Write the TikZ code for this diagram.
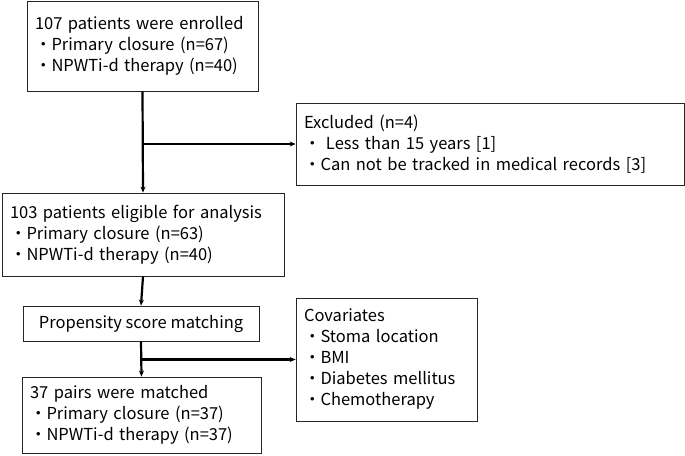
\documentclass[tikz,border=0pt]{standalone}
\usepackage{fontspec}
\setmainfont{Noto Sans CJK JP}
\usetikzlibrary{arrows.meta}

\tikzset{
  box/.style={draw=black!85, line width=0.8pt, inner xsep=8pt, inner ysep=0pt,
              align=left, font=\fontsize{16.5}{21}\selectfont},
  flow/.style={line width=2.2pt, -{Stealth[length=6pt,width=5pt]}},
}

\begin{document}
\begin{tikzpicture}[x=1pt, y=-1pt]

% Frame of the picture (pixels of the reference, y downwards)
\useasboundingbox (0,0) rectangle (685,455);

% Main column of boxes
\node[box, text width=215pt, minimum height=90pt] (enrolled) at (142.5,46)
  {107 patients were enrolled\\
   ・Primary closure (n=67)\\
   ・NPWTi-d therapy (n=40)};

\node[box, text width=266pt, minimum height=83pt] (eligible) at (143,234.5)
  {103 patients eligible for analysis\\
   ・Primary closure (n=63)\\
   ・NPWTi-d therapy (n=40)};

\node[box, align=center, minimum width=236pt, minimum height=35pt] (psm) at (141,323.5)
  {Propensity score matching};

\node[box, text width=223pt, minimum height=76pt] (matched) at (141.5,415)
  {37 pairs were matched\\
   ・Primary closure (n=37)\\
   ・NPWTi-d therapy (n=37)};

% Side boxes
\node[box, text width=372pt, minimum height=82pt] (excluded) at (490,144)
  {Excluded (n=4)\\
   ・ Less than 15 years [1]\\
   ・Can not be tracked in medical records [3]};

\node[box, text width=165pt, minimum height=123pt] (covariates) at (386.5,359.5)
  {Covariates\\
   ・Stoma location\\
   ・BMI\\
   ・Diabetes mellitus\\
   ・Chemotherapy};

% Arrows down the column
\draw[flow] (enrolled.south) -- (eligible.north);
\draw[flow] (eligible.south) -- (psm.north);
\draw[flow] (psm.south) -- (matched.north);

% Branches to the side boxes
\draw[flow] (enrolled.south |- excluded.west) -- (excluded.west);
\draw[flow] (psm.south |- covariates.west) -- (covariates.west);

\end{tikzpicture}
\end{document}
